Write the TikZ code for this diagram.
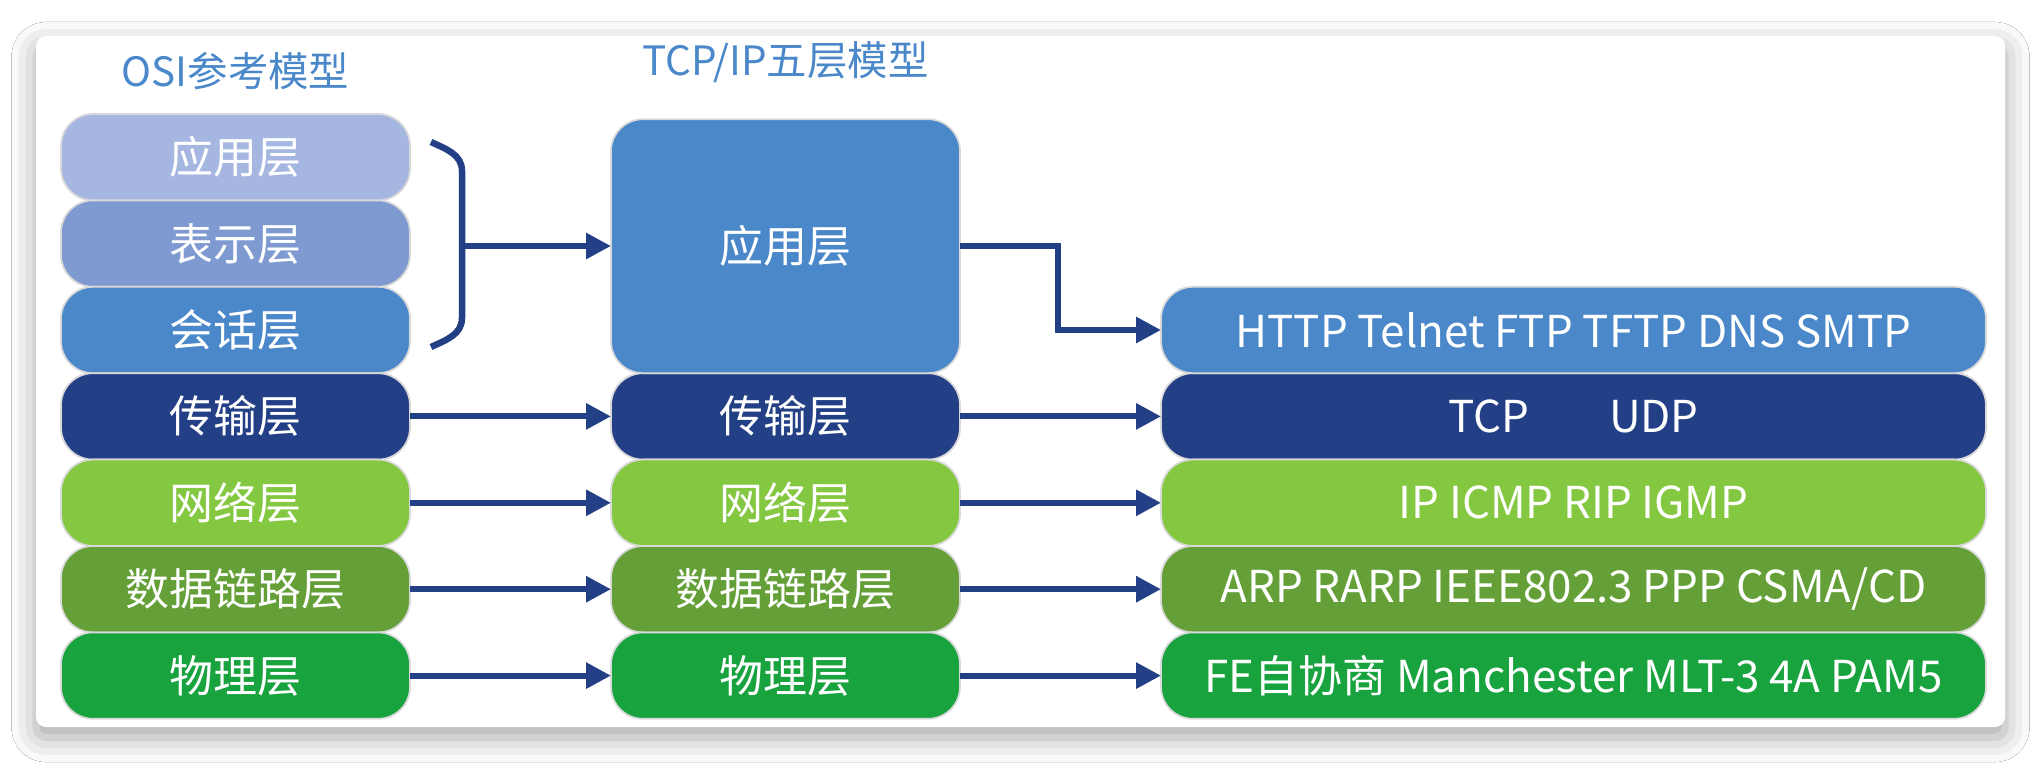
\documentclass[tikz,border=0pt]{standalone}
\usepackage{fontspec}
\setmainfont{Noto Sans CJK SC}
\usepackage{tikz}
\usetikzlibrary{arrows.meta, positioning, calc, shadows.blur}

\definecolor{osiapp}{HTML}{A5B7E1}
\definecolor{osipres}{HTML}{7E9AD0}
\definecolor{midblue}{HTML}{4A88CA}
\definecolor{navy}{HTML}{233F85}
\definecolor{lightgreen}{HTML}{84C841}
\definecolor{olive}{HTML}{64A037}
\definecolor{deepgreen}{HTML}{19A33F}

\begin{document}
\begin{tikzpicture}[>={Triangle[length=0.25cm, width=0.25cm]},
    layer/.style={rounded corners=0.32cm, draw=black!15, line width=0.5pt, text=white, outer sep=0pt,
        minimum height=0.864cm, inner sep=0pt, font=\fontsize{12.5}{15}\selectfont},
    osibox/.style={layer, minimum width=3.49cm},
    protobox/.style={layer, minimum width=8.25cm},
    link/.style={->, draw=navy, line width=0.06cm},
    title/.style={text=midblue, font=\fontsize{11.5}{14}\selectfont}]
        \useasboundingbox (0,0) rectangle (20.4,7.64);
        \fill[white] (0,0) rectangle (20.4,7.64);
        % White card with soft shadow
        \fill[white, rounded corners=0.1cm, blur shadow={shadow xshift=0pt, shadow yshift=-3pt,
            shadow blur radius=7pt, shadow opacity=35}] (0.36,0.37) rectangle (20.05,7.28);
        % OSI reference model
        \node [osibox, fill=osiapp] (osi1) at (2.355,6.068) {应用层};
        \node [osibox, fill=osipres, below=0cm of osi1] (osi2) {表示层};
        \node [osibox, fill=midblue, below=0cm of osi2] (osi3) {会话层};
        \node [osibox, fill=navy, below=0cm of osi3] (osi4) {传输层};
        \node [osibox, fill=lightgreen, below=0cm of osi4] (osi5) {网络层};
        \node [osibox, fill=olive, below=0cm of osi5] (osi6) {数据链路层};
        \node [osibox, fill=deepgreen, below=0cm of osi6] (osi7) {物理层};
        \node [title, above=0.12cm of osi1] (osititle) {OSI参考模型};
        % TCP/IP five layer model
        \node [osibox, fill=navy, right=2.01cm of osi4] (tcp4) {传输层};
        \node [osibox, fill=lightgreen, right=2.01cm of osi5] (tcp5) {网络层};
        \node [osibox, fill=olive, right=2.01cm of osi6] (tcp6) {数据链路层};
        \node [osibox, fill=deepgreen, right=2.01cm of osi7] (tcp7) {物理层};
        \node [layer, fill=midblue, minimum width=3.49cm, minimum height=2.54cm, above=0cm of tcp4] (tcp1) {应用层};
        \node [title, above=0.24cm of tcp1] (tcptitle) {TCP/IP五层模型};
        % Protocols
        \node [protobox, fill=navy, right=2.01cm of tcp4] (proto4) {TCP\hspace{0.8cm}UDP};
        \node [protobox, fill=midblue, above=0cm of proto4] (proto3) {HTTP Telnet FTP TFTP DNS SMTP};
        \node [protobox, fill=lightgreen, right=2.01cm of tcp5] (proto5) {IP ICMP RIP IGMP};
        \node [protobox, fill=olive, right=2.01cm of tcp6] (proto6) {ARP RARP IEEE802.3 PPP CSMA/CD};
        \node [protobox, fill=deepgreen, right=2.01cm of tcp7] (proto7) {FE自协商 Manchester MLT-3 4A PAM5};
        % Brace over the upper three layers
        \draw [navy, line width=0.065cm] (4.31,6.22) to[out=-25, in=90] (4.62,5.93)
            -- (4.62,4.46) to[out=-90, in=25] (4.31,4.17);
        \coordinate (brace) at (4.62,5.18);
        \draw [link] (brace) -- (brace -| tcp1.west);
        \draw [link] (tcp1.east) -- ++(0.98,0) |- (proto3.west);
        % Layer to layer
        \draw [link] (osi4) -- (tcp4);
        \draw [link] (osi5) -- (tcp5);
        \draw [link] (osi6) -- (tcp6);
        \draw [link] (osi7) -- (tcp7);
        \draw [link] (tcp4) -- (proto4);
        \draw [link] (tcp5) -- (proto5);
        \draw [link] (tcp6) -- (proto6);
        \draw [link] (tcp7) -- (proto7);
    \end{tikzpicture}
\end{document}
